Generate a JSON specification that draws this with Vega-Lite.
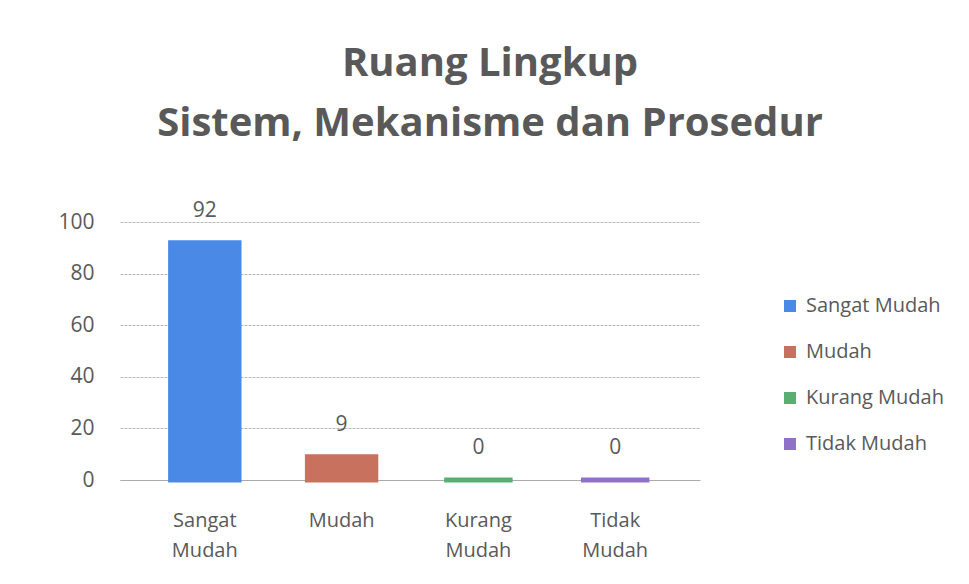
{
  "$schema": "https://vega.github.io/schema/vega-lite/v6.json",
  "width": 580,
  "height": 258,
  "autosize": {"type": "none"},
  "padding": {"left": 120, "top": 222, "right": 269, "bottom": 104},
  "background": "white",
  "title": {
    "text": ["Ruang Lingkup", "Sistem, Mekanisme dan Prosedur"],
    "font": "Open Sans",
    "fontSize": 40,
    "fontWeight": "bold",
    "color": "#595959",
    "lineHeight": 60,
    "anchor": "middle",
    "frame": "group",
    "dx": 80,
    "offset": 56
  },
  "data": {
    "values": [
      {"kategori": "Sangat Mudah", "nilai": 92},
      {"kategori": "Mudah", "nilai": 9},
      {"kategori": "Kurang Mudah", "nilai": 0},
      {"kategori": "Tidak Mudah", "nilai": 0}
    ]
  },
  "config": {
    "view": {"stroke": null},
    "font": "Open Sans"
  },
  "encoding": {
    "x": {
      "field": "kategori",
      "type": "nominal",
      "sort": null,
      "scale": {"paddingInner": 0.5, "paddingOuter": 0.37},
      "axis": {
        "title": null,
        "labelAngle": 0,
        "labelExpr": "split(datum.label, ' ')",
        "labelFontSize": 20,
        "labelColor": "#595959",
        "labelLineHeight": 30,
        "labelPadding": 30,
        "ticks": false,
        "domainColor": "#aaaaaa",
        "grid": false
      }
    },
    "y": {
      "field": "nilai",
      "type": "quantitative",
      "scale": {"domain": [0, 100]},
      "axis": {
        "title": null,
        "values": [0, 20, 40, 60, 80, 100],
        "labelFontSize": 21,
        "labelColor": "#595959",
        "labelPadding": 26,
        "ticks": false,
        "domain": false,
        "gridColor": "#b8b8b8",
        "gridDash": [3, 1]
      }
    }
  },
  "layer": [
    {
      "mark": {"type": "bar", "strokeWidth": 5, "strokeJoin": "miter"},
      "encoding": {
        "y2": {"datum": 0},
        "color": {
          "field": "kategori",
          "type": "nominal",
          "sort": null,
          "scale": {
            "domain": ["Sangat Mudah", "Mudah", "Kurang Mudah", "Tidak Mudah"],
            "range": ["#4a8ae6", "#c8715f", "#5aae72", "#8f72c8"]
          },
          "legend": {
            "title": null,
            "orient": "none",
            "legendX": 660,
            "legendY": 74,
            "symbolType": "square",
            "symbolSize": 110,
            "labelFontSize": 20,
            "labelColor": "#595959",
            "rowPadding": 26,
            "labelOffset": 6
          }
        },
        "stroke": {
          "field": "kategori",
          "type": "nominal",
          "sort": null,
          "scale": {
            "domain": ["Sangat Mudah", "Mudah", "Kurang Mudah", "Tidak Mudah"],
            "range": ["#4a8ae6", "#c8715f", "#5aae72", "#8f72c8"]
          },
          "legend": null
        }
      }
    },
    {
      "mark": {"type": "text", "dy": -22, "baseline": "bottom", "fontSize": 21, "color": "#595959"},
      "encoding": {
        "text": {"field": "nilai", "type": "quantitative"}
      }
    }
  ]
}
